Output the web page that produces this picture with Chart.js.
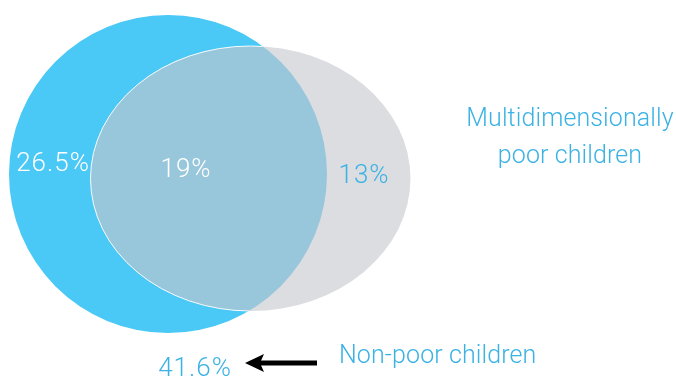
<!DOCTYPE html>
<html>
<head>
<meta charset="utf-8">
<script src="https://cdn.jsdelivr.net/npm/chart.js@4"></script>
<style>
  html, body { margin: 0; padding: 0; background: #fff; }
  #wrap { width: 676px; height: 376px; position: relative; }
</style>
</head>
<body>
<div id="wrap"><canvas id="c"></canvas></div>
<script>
// ---- data ----
const groups = ['Multidimensionally poor children', 'Non-poor children'];
const regionNames = ['Only circle A', 'Overlap', 'Only circle B', 'Outside'];
const regionValues = [26.5, 19, 13, 41.6];
const regionLabels = regionValues.map(v => v + '%');

// ---- geometry (axis units) ----
const shapeCX = [168, 250.5];
const shapeCY = [174, 178.5];
const shapeRX = [159, 160];
const shapeRY = [159, 132.5];
const labelX = [53, 186, 364, 195];
const labelY = [164, 170, 176, 369];

const BLUE = '#4ac8f6', GREY = '#dcdde0', OVER = '#98c6db', TXT = '#3ab2e3';
const FONT = '"Roboto", "Open Sans", "Liberation Sans", sans-serif';

const vennPlugin = {
  id: 'venn',
  beforeDatasetsDraw(chart) {
    const { ctx, scales: { x, y } } = chart;
    const px = v => x.getPixelForValue(v);
    const py = v => y.getPixelForValue(v);
    const path = i => {
      ctx.beginPath();
      ctx.ellipse(px(shapeCX[i]), py(shapeCY[i]),
        Math.abs(px(shapeCX[i] + shapeRX[i]) - px(shapeCX[i])),
        Math.abs(py(shapeCY[i] + shapeRY[i]) - py(shapeCY[i])), 0, 0, Math.PI * 2);
    };
    ctx.save();
    path(0); ctx.fillStyle = BLUE; ctx.fill();
    path(1); ctx.fillStyle = GREY; ctx.fill();
    ctx.save();
    path(0); ctx.clip();
    path(1); ctx.fillStyle = OVER; ctx.fill();
    ctx.strokeStyle = 'rgba(255,255,255,0.9)'; ctx.lineWidth = 1; ctx.stroke();
    ctx.restore();

    // region labels
    ctx.textAlign = 'center'; ctx.textBaseline = 'middle';
    ctx.letterSpacing = '1px';
    const colors = ['#ffffff', '#ffffff', TXT, TXT];
    regionLabels.forEach((t, i) => {
      ctx.font = '300 26px ' + FONT;
      ctx.fillStyle = colors[i];
      ctx.fillText(t, px(labelX[i]), py(labelY[i]));
    });

    // group labels
    ctx.letterSpacing = '0.1px';
    ctx.font = '300 25px ' + FONT;
    ctx.fillStyle = TXT;
    ctx.fillText('Multidimensionally', px(570), py(120));
    ctx.fillText('poor children', px(570), py(157));
    ctx.textAlign = 'left';
    ctx.fillText(groups[1], px(339), py(357));

    // arrow
    ctx.strokeStyle = '#000'; ctx.fillStyle = '#000';
    ctx.lineWidth = 5;
    ctx.beginPath(); ctx.moveTo(px(317), py(363)); ctx.lineTo(px(258), py(363)); ctx.stroke();
    ctx.beginPath();
    ctx.moveTo(px(245), py(363));
    ctx.lineTo(px(264), py(354));
    ctx.lineTo(px(260), py(363));
    ctx.lineTo(px(264), py(372));
    ctx.closePath(); ctx.fill();
    ctx.restore();
  }
};

new Chart(document.getElementById('c'), {
  type: 'scatter',
  data: {
    datasets: [{
      label: 'Regions',
      data: regionValues.map((v, i) => ({ x: labelX[i], y: labelY[i], v })),
      pointRadius: 0,
      showLine: false
    }]
  },
  options: {
    responsive: true,
    maintainAspectRatio: false,
    animation: false,
    layout: { padding: 0 },
    plugins: { legend: { display: false }, tooltip: { enabled: false } },
    scales: {
      x: { type: 'linear', min: 0, max: 676, display: false },
      y: { type: 'linear', min: 0, max: 376, reverse: true, display: false }
    }
  },
  plugins: [vennPlugin]
});
</script>
</body>
</html>
